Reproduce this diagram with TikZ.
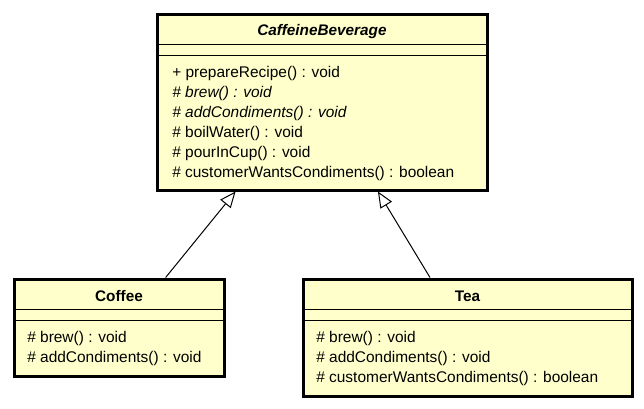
\documentclass[tikz,border=0pt]{standalone}
\usepackage{fontspec}
\setmainfont{Liberation Sans}
\usetikzlibrary{arrows.meta}
\definecolor{umlfill}{HTML}{FFFFCC}
\tikzset{
  classbox/.style={draw=black, line width=2.25pt, fill=umlfill, inner sep=0pt},
  sepline/.style={line width=0.75pt},
  classname/.style={inner sep=0pt, font=\fontsize{11.5}{13}\selectfont\bfseries},
  member/.style={anchor=west, inner sep=0pt, font=\fontsize{11.6}{13}\selectfont},
  inherit/.style={line width=0.75pt, -{Triangle[length=12pt, width=10pt, fill=white]}}
}
\begin{document}
\begin{tikzpicture}[x=0.75pt, y=-0.75pt]
    \useasboundingbox (0,0) rectangle (644,408);

    % abstract class
    \node[classbox, minimum width=247.5pt, minimum height=132pt] (beverage) at (322,102) {};
    \draw[sepline] (157,44) -- (487,44);
    \draw[sepline] (157,55) -- (487,55);
    \node[classname, font=\fontsize{11.5}{13}\selectfont\bfseries\itshape] (beverage-name) at (322,31.5) {CaffeineBeverage};
    \node[member] (beverage-m1) at (172,73.5) {+ prepareRecipe() : void};
    \node[member, font=\fontsize{11.6}{13}\selectfont\itshape] (beverage-m2) at (172,93) {\# brew() : void};
    \node[member, font=\fontsize{11.6}{13}\selectfont\itshape] (beverage-m3) at (172,113) {\# addCondiments() : void};
    \node[member] (beverage-m4) at (172,133) {\# boilWater() : void};
    \node[member] (beverage-m5) at (172,153) {\# pourInCup() : void};
    \node[member] (beverage-m6) at (172,173.5) {\# customerWantsCondiments() : boolean};

    % subclasses
    \node[classbox, minimum width=157.5pt, minimum height=72.75pt] (coffee) at (119,327.5) {};
    \draw[sepline] (14,309) -- (224,309);
    \draw[sepline] (14,320) -- (224,320);
    \node[classname] (coffee-name) at (119,296.5) {Coffee};
    \node[member] (coffee-m1) at (27,338.5) {\# brew() : void};
    \node[member] (coffee-m2) at (27,358) {\# addCondiments() : void};

    \node[classbox, minimum width=246.75pt, minimum height=87.75pt] (tea) at (467.5,337.5) {};
    \draw[sepline] (303,309) -- (632,309);
    \draw[sepline] (303,320) -- (632,320);
    \node[classname] (tea-name) at (467.5,296.5) {Tea};
    \node[member] (tea-m1) at (316,338.5) {\# brew() : void};
    \node[member] (tea-m2) at (316,358) {\# addCondiments() : void};
    \node[member] (tea-m3) at (316,378.5) {\# customerWantsCondiments() : boolean};

    % generalisation
    \draw[inherit] (coffee.47.8) -- (beverage.226.7);
    \draw[inherit] (tea.122.7) -- (beverage.302);
\end{tikzpicture}
\end{document}
